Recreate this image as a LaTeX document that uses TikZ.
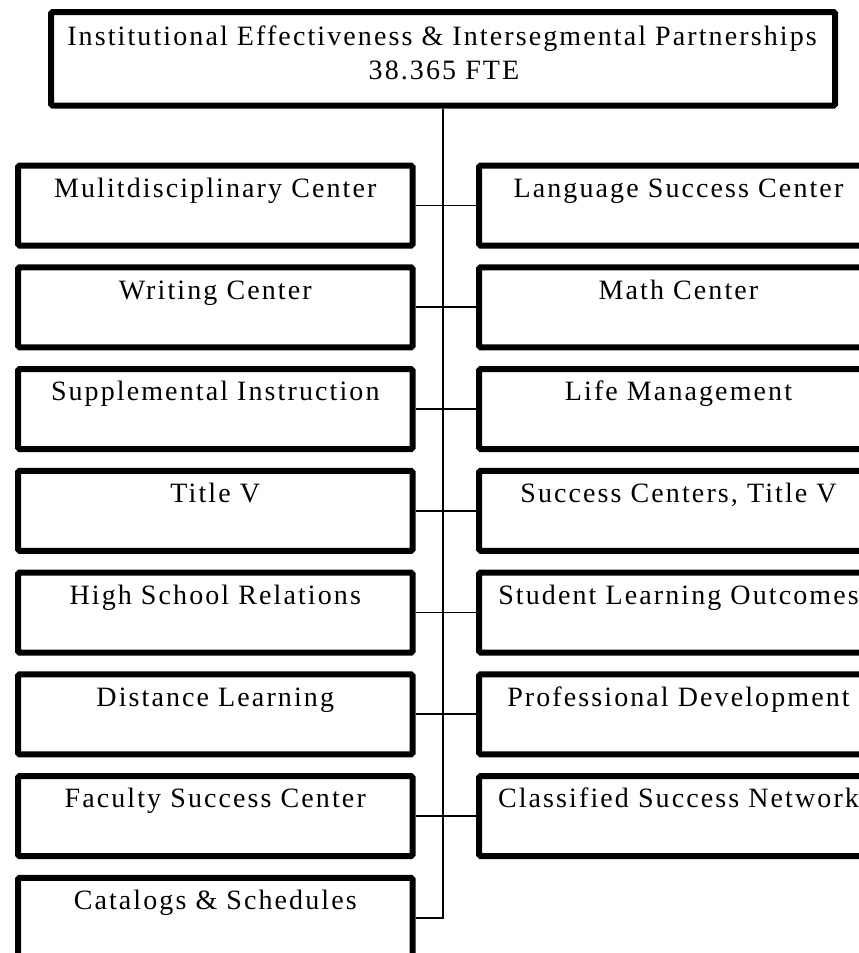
\documentclass[tikz,border=0pt]{standalone}
\usepackage{fontspec}
\setmainfont{Liberation Serif}[LetterSpace=7.5]
\begin{document}
\begin{tikzpicture}[x=1pt,y=1pt,
  box/.style={draw=black, line width=6pt, rounded corners=1.5pt, fill=white,
    inner sep=0pt, anchor=north west, minimum height=80pt,
    text height=31.8pt, text depth=48.2pt,
    font=\fontsize{28}{32}\selectfont},
  lbox/.style={box, minimum width=394.5pt},
  rbox/.style={box, minimum width=399pt},
  topbox/.style={draw=black, line width=6pt, rounded corners=1.5pt, fill=white,
    inner sep=0pt, minimum width=784pt, minimum height=93.5pt},
  toptext/.style={anchor=base, inner sep=0pt, font=\fontsize{28}{32}\selectfont},
  conn/.style={draw=black, line width=1.6pt}
]
\clip (0,0) rectangle (859,-953);
\fill[white] (0,0) rectangle (859,-953);

\node[topbox] (top) at (443,-58.75) {};
\node[toptext] (t1) at (442,-45) {Institutional Effectiveness \& Intersegmental Partnerships};
\node[toptext] (t2) at (444,-79) {38.365 FTE};

\node[lbox] (L1) at (15,-162.5)  {Mulitdisciplinary Center};
\node[lbox] (L2) at (15,-264.25) {Writing Center};
\node[lbox] (L3) at (15,-366.0)  {Supplemental Instruction};
\node[lbox] (L4) at (15,-467.75) {Title V};
\node[lbox] (L5) at (15,-569.5)  {High School Relations};
\node[lbox] (L6) at (15,-671.25) {Distance Learning};
\node[lbox] (L7) at (15,-773.0)  {Faculty Success Center};
\node[lbox] (L8) at (15,-874.75) {Catalogs \& Schedules};

\node[rbox] (R1) at (476,-162.5)  {Language Success Center};
\node[rbox] (R2) at (476,-264.25) {Math Center};
\node[rbox] (R3) at (476,-366.0)  {Life Management};
\node[rbox] (R4) at (476,-467.75) {Success Centers, Title V};
\node[rbox] (R5) at (476,-569.5)  {Student Learning Outcomes};
\node[rbox] (R6) at (476,-671.25) {Professional Development};
\node[rbox] (R7) at (476,-773.0)  {Classified Success Network};

\coordinate (tx) at (442.7,0);
\draw[conn] (top.south -| tx) -- (L8.east -| tx) -- (L8.east);
\foreach \i in {1,...,7} {
  \draw[conn] (L\i.east) -- (R\i.west);
}
\end{tikzpicture}
\end{document}
